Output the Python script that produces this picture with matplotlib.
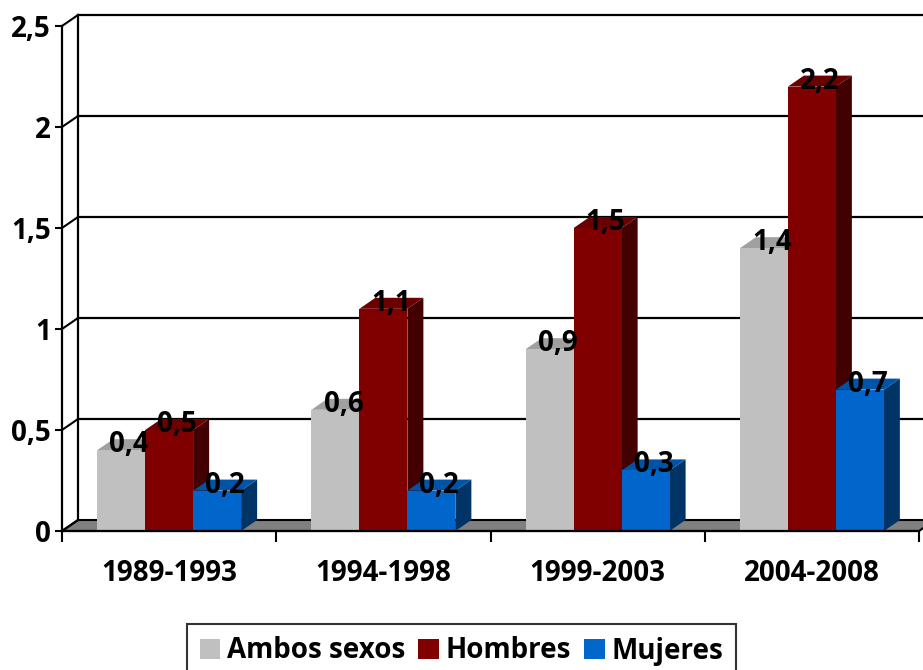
import numpy as np
import matplotlib.pyplot as plt
from matplotlib.patches import Polygon, Patch

plt.rcParams['font.family'] = ['Open Sans', 'DejaVu Sans']
plt.rcParams['font.weight'] = 'bold'

periods = ['1989-1993', '1994-1998', '1999-2003', '2004-2008']
series = ['Ambos sexos', 'Hombres', 'Mujeres']
ambos = [0.4, 0.6, 0.9, 1.4]
hombres = [0.5, 1.1, 1.5, 2.2]
mujeres = [0.2, 0.2, 0.3, 0.7]
yticks = [0, 0.5, 1, 1.5, 2, 2.5]
ylabels = ['0', '0,5', '1', '1,5', '2', '2,5']

# front, top, side colours per series
colors = [('#C0C0C0', '#A0A0A0', '#8C8C8C'),
          ('#800000', '#6A0000', '#420000'),
          ('#0066CC', '#0054A8', '#003366')]

FS = 20

fig = plt.figure(figsize=(9.23, 6.70), dpi=100)
ax = fig.add_axes([62 / 923, 139 / 670, 857 / 923, 505 / 670])
ax.set_xlim(0, 4)
ax.set_ylim(0, 2.5)

# depth offset (16 px right, 11 px up) in data units
p0 = ax.transData.transform((0, 0))
ddx, ddy = ax.transData.inverted().transform(p0 + np.array([16, 11]))

# floor
ax.add_patch(Polygon([(0, 0), (4, 0), (4 + ddx, ddy), (ddx, ddy)], closed=True,
                     facecolor='#808080', edgecolor='black', lw=1.5, clip_on=False, zorder=1))
# back wall grid + left wall
for y in yticks:
    if y > 0:
        ax.plot([ddx, 4 + ddx], [y + ddy, y + ddy], color='black', lw=1.6, clip_on=False, zorder=1)
    ax.plot([0, ddx], [y, y + ddy], color='black', lw=1.5, clip_on=False, zorder=1)
ax.plot([ddx, ddx], [ddy, 2.5 + ddy], color='black', lw=1.6, clip_on=False, zorder=1)

# bars with pseudo-3D faces, drawn left to right
w = 0.224
values = [ambos, hombres, mujeres]
z = 3
for i in range(len(periods)):
    for j, vals in enumerate(values):
        v = vals[i]
        x0 = i + 0.5 + (j - 1.5) * w
        x1 = x0 + w
        front, top, side = colors[j]
        ax.add_patch(Polygon([(x1, 0), (x1 + ddx, ddy), (x1 + ddx, v + ddy), (x1, v)],
                             facecolor=side, edgecolor='none', clip_on=False, zorder=z))
        ax.add_patch(Polygon([(x0, v), (x1, v), (x1 + ddx, v + ddy), (x0 + ddx, v + ddy)],
                             facecolor=top, edgecolor='none', clip_on=False, zorder=z))
        ax.bar(x0, v, width=w, align='edge', color=front, edgecolor='none', zorder=z)
        ax.text((x0 + x1) / 2 + ddx / 2, v + ddy / 2, f'{v:.1f}'.replace('.', ','),
                ha='center', va='center', fontsize=FS, fontweight='bold', zorder=20)
        z += 1

for s in ['top', 'right']:
    ax.spines[s].set_visible(False)
for s in ['left', 'bottom']:
    ax.spines[s].set_linewidth(1.6)
    ax.spines[s].set_zorder(30)

ax.set_yticks(yticks)
ax.set_yticklabels(ylabels, fontsize=FS, fontweight='bold')
ax.tick_params(axis='y', direction='out', length=5, width=1.5, pad=3)
ax.set_xticks([0, 1, 2, 3, 4])
ax.set_xticklabels([])
ax.tick_params(axis='x', which='major', direction='out', length=8, width=1.5)
ax.set_xticks([0.5, 1.5, 2.5, 3.5], minor=True)
ax.set_xticklabels(periods, minor=True, fontsize=FS, fontweight='bold')
ax.tick_params(axis='x', which='minor', length=0, pad=20)

handles = [Patch(facecolor=c[0], edgecolor='none') for c in colors]
leg = fig.legend(handles, series, loc='upper center', bbox_to_anchor=(0.5, 1 - 624 / 670),
                 ncol=3, frameon=True, fancybox=False, edgecolor='black',
                 prop={'size': FS, 'weight': 'bold'}, handlelength=0.75, handleheight=0.75,
                 handletextpad=0.25, columnspacing=0.45, borderpad=0.45, borderaxespad=0)
leg.get_frame().set_linewidth(1.5)

fig.savefig('out.png', dpi=100)
